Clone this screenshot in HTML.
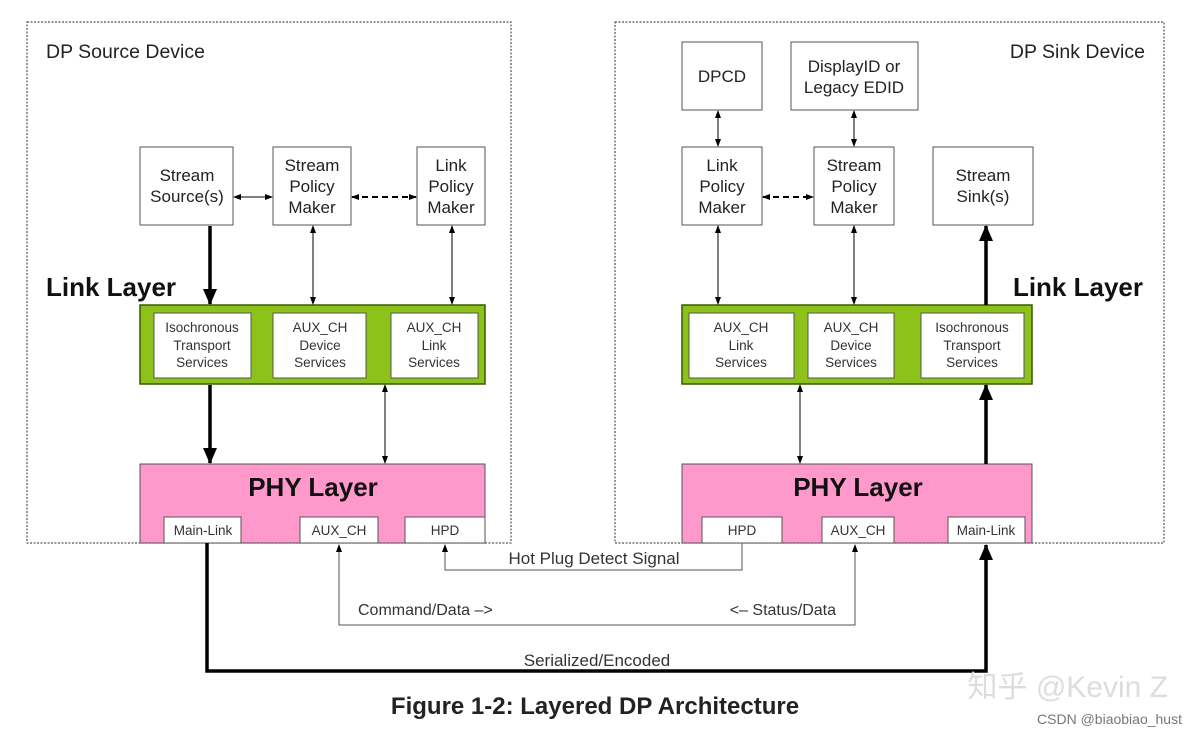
<!DOCTYPE html><html><head><style>body{margin:0;background:#fff}svg{display:block;font-family:"Liberation Sans",Arial,sans-serif}</style></head><body>
<svg width="1197" height="736" viewBox="0 0 1197 736" xmlns="http://www.w3.org/2000/svg">
<defs>
<marker id="a" markerWidth="8" markerHeight="8" refX="7" refY="4" orient="auto-start-reverse" markerUnits="userSpaceOnUse"><path d="M0,1 L8,4 L0,7z" fill="#000"/></marker>
<marker id="b" markerWidth="16" markerHeight="16" refX="15" refY="8" orient="auto-start-reverse" markerUnits="userSpaceOnUse"><path d="M0,1 L16,8 L0,15z" fill="#000"/></marker>
</defs>
<g fill="none" stroke="#555" stroke-dasharray="2,1.5" stroke-width="1.2">
<rect x="27" y="22" width="484" height="521"/><rect x="615" y="22" width="549" height="521"/></g>
<g fill="#fff" stroke="#555" stroke-width="1">
<rect x="140" y="147" width="93" height="78"/><rect x="273" y="147" width="78" height="78"/><rect x="417" y="147" width="68" height="78"/>
<rect x="682" y="42" width="80" height="68"/><rect x="791" y="42" width="127" height="68"/>
<rect x="682" y="147" width="80" height="78"/><rect x="814" y="147" width="80" height="78"/><rect x="933" y="147" width="100" height="78"/>
</g>
<g stroke="#3a5a00" stroke-width="1.5" fill="#8cc21a"><rect x="140" y="305" width="345" height="79"/><rect x="682" y="305" width="350" height="79"/></g>
<g stroke="#555" fill="#ff99cc"><rect x="140" y="464" width="345" height="79"/><rect x="682" y="464" width="350" height="79"/></g>
<g fill="#fff" stroke="#555"><rect x="154" y="313" width="97" height="65"/><rect x="273" y="313" width="93" height="65"/><rect x="391" y="313" width="87" height="65"/>
<rect x="689" y="313" width="105" height="65"/><rect x="808" y="313" width="86" height="65"/><rect x="921" y="313" width="103" height="65"/>
<rect x="164" y="517" width="77" height="26"/><rect x="300" y="517" width="78" height="26"/><rect x="405" y="517" width="80" height="26"/>
<rect x="702" y="517" width="80" height="26"/><rect x="822" y="517" width="72" height="26"/><rect x="948" y="517" width="77" height="26"/></g>
<g stroke="#000" stroke-width="1" fill="none">
<line x1="313" y1="226" x2="313" y2="304" marker-start="url(#a)" marker-end="url(#a)"/>
<line x1="452" y1="226" x2="452" y2="304" marker-start="url(#a)" marker-end="url(#a)"/>
<line x1="385" y1="385" x2="385" y2="463" marker-start="url(#a)" marker-end="url(#a)"/>
<line x1="718" y1="226" x2="718" y2="304" marker-start="url(#a)" marker-end="url(#a)"/>
<line x1="854" y1="226" x2="854" y2="304" marker-start="url(#a)" marker-end="url(#a)"/>
<line x1="800" y1="385" x2="800" y2="463" marker-start="url(#a)" marker-end="url(#a)"/>
<line x1="718" y1="111" x2="718" y2="146" marker-start="url(#a)" marker-end="url(#a)"/>
<line x1="854" y1="111" x2="854" y2="146" marker-start="url(#a)" marker-end="url(#a)"/>
<line x1="234" y1="197" x2="272" y2="197" marker-start="url(#a)" marker-end="url(#a)"/>
<line x1="352" y1="197" x2="416" y2="197" stroke-width="2" stroke-dasharray="6,4" marker-start="url(#a)" marker-end="url(#a)"/>
<line x1="763" y1="197" x2="813" y2="197" stroke-width="2" stroke-dasharray="6,4" marker-start="url(#a)" marker-end="url(#a)"/>
<path d="M339,545 V625 H855 V545" stroke="#555" marker-start="url(#a)" marker-end="url(#a)"/>
<path d="M445,545 V570 H742 V543" stroke="#555" marker-start="url(#a)"/>
</g>
<g stroke="#000" stroke-width="3.5" fill="none">
<line x1="210" y1="226" x2="210" y2="304" marker-end="url(#b)"/>
<line x1="210" y1="385" x2="210" y2="463" marker-end="url(#b)"/>
<line x1="986" y1="305" x2="986" y2="226" marker-end="url(#b)"/>
<line x1="986" y1="464" x2="986" y2="385" marker-end="url(#b)"/>
<path d="M207,543 V671 H986 V545" marker-end="url(#b)"/>
</g>
<g font-size="19.5" fill="#222">
<text x="46" y="58">DP Source Device</text><text x="1145" y="58" text-anchor="end">DP Sink Device</text>
</g>
<g font-size="17" fill="#222" text-anchor="middle">
<text x="187" y="181">Stream</text><text x="187" y="202">Source(s)</text>
<text x="312" y="171">Stream</text><text x="312" y="192">Policy</text><text x="312" y="213">Maker</text>
<text x="451" y="171">Link</text><text x="451" y="192">Policy</text><text x="451" y="213">Maker</text>
<text x="722" y="82">DPCD</text>
<text x="854" y="72">DisplayID or</text><text x="854" y="93">Legacy EDID</text>
<text x="722" y="171">Link</text><text x="722" y="192">Policy</text><text x="722" y="213">Maker</text>
<text x="854" y="171">Stream</text><text x="854" y="192">Policy</text><text x="854" y="213">Maker</text>
<text x="983" y="181">Stream</text><text x="983" y="202">Sink(s)</text>
</g>
<g font-size="13.5" fill="#333" text-anchor="middle">
<text x="202" y="332">Isochronous</text><text x="202" y="350">Transport</text><text x="202" y="367">Services</text>
<text x="320" y="332">AUX_CH</text><text x="320" y="350">Device</text><text x="320" y="367">Services</text>
<text x="434" y="332">AUX_CH</text><text x="434" y="350">Link</text><text x="434" y="367">Services</text>
<text x="741" y="332">AUX_CH</text><text x="741" y="350">Link</text><text x="741" y="367">Services</text>
<text x="851" y="332">AUX_CH</text><text x="851" y="350">Device</text><text x="851" y="367">Services</text>
<text x="972" y="332">Isochronous</text><text x="972" y="350">Transport</text><text x="972" y="367">Services</text>
<text x="203" y="535">Main-Link</text><text x="339" y="535">AUX_CH</text><text x="445" y="535">HPD</text>
<text x="742" y="535">HPD</text><text x="858" y="535">AUX_CH</text><text x="986" y="535">Main-Link</text>
</g>
<g font-size="26" font-weight="bold" fill="#111">
<text x="46" y="296">Link Layer</text><text x="1143" y="296" text-anchor="end">Link Layer</text>
<text x="313" y="496" text-anchor="middle">PHY Layer</text><text x="858" y="496" text-anchor="middle">PHY Layer</text>
</g>
<g font-size="17" fill="#333">
<text x="594" y="564" text-anchor="middle">Hot Plug Detect Signal</text>
<text x="358" y="615" font-size="16">Command/Data –&gt;</text>
<text x="836" y="615" font-size="16" text-anchor="end">&lt;– Status/Data</text>
<text x="597" y="666" text-anchor="middle">Serialized/Encoded</text>
</g>
<text x="595" y="714" font-size="24" font-weight="bold" fill="#222" text-anchor="middle">Figure 1-2: Layered DP Architecture</text>
<text x="1168" y="697" font-size="30" fill="#ddd" text-anchor="end" font-family="'Liberation Sans','Noto Sans CJK SC',sans-serif">知乎 @Kevin Z</text>
<text x="1182" y="724" font-size="14" fill="#777" text-anchor="end">CSDN @biaobiao_hust</text>
</svg></body></html>
